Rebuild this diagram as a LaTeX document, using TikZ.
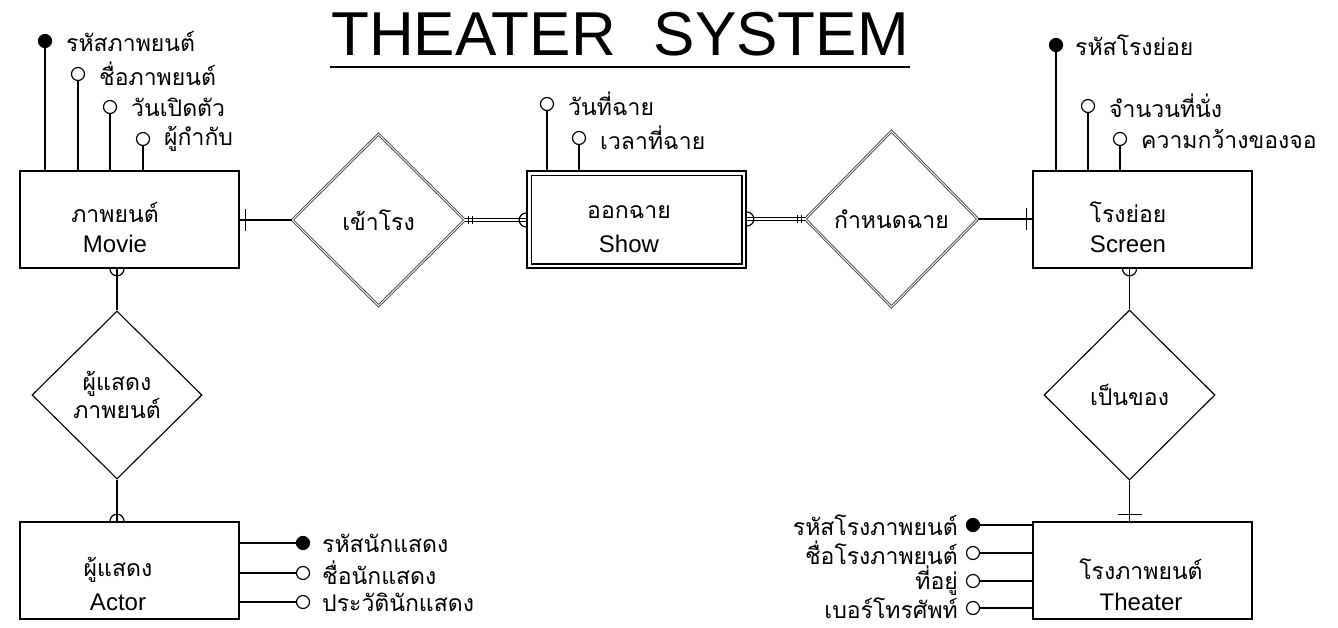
\documentclass[tikz,border=0pt]{standalone}
\usepackage{fontspec}
\setmainfont{Liberation Sans}
\newfontfamily\thai[Script=Thai]{Loma}
\usetikzlibrary{shapes.geometric}
\begin{document}
\begin{tikzpicture}[x=1pt,y=-1pt,
  ent/.style={draw, line width=1.6pt, minimum width=219pt, minimum height=97pt, inner sep=0pt},
  relA/.style={diamond, draw=black!75, double, double distance=0.9pt, line width=0.9pt, inner sep=0pt, font=\thai\fontsize{23}{26}\selectfont},
  relB/.style={diamond, draw, line width=1.1pt, inner sep=0pt, align=center, font=\thai\fontsize{23}{26}\selectfont},
  key/.style={circle, draw, fill=black, line width=1.2pt, minimum size=13pt, inner sep=0pt},
  att/.style={circle, draw, fill=white, line width=1.2pt, minimum size=13pt, inner sep=0pt},
  lbl/.style={font=\thai\fontsize{23}{26}\selectfont, inner sep=0pt},
  lat/.style={font=\fontsize{24}{26}\selectfont, inner sep=0pt},
  conn/.style={line width=1.6pt},
  dbl/.style={double, double distance=2pt, line width=1.2pt},
  tickmk/.style={line width=1.2pt},
  titlef/.style={font=\fontsize{62}{66}\selectfont, inner sep=0pt}
]
\useasboundingbox (0,0) rectangle (1338,627);
% title
\node[titlef] (title) at (620,34) {THEATER\hspace{38pt}SYSTEM};
\coordinate (ul1) at (330,67);
\coordinate (ul2) at (910,67);
\draw[line width=2pt] (ul1) -- (ul2);

% entities
\node[ent] (movie) at (129.5,219.5) {};
\node[ent] (show) at (636.5,219.5) {};
\draw[line width=1.4pt] ([shift={(5,5)}]show.north west) rectangle ([shift={(-5,-5)}]show.south east);
\node[ent] (screen) at (1142.5,219.5) {};
\node[ent] (actor) at (129.5,570.5) {};
\node[ent] (theater) at (1142.5,570.5) {};

\node[lbl] (movieth) at (115,212) {ภาพยนต์};
\node[lat] (movieen) at (115,244) {Movie};
\node[lbl] (showth) at (629,212) {ออกฉาย};
\node[lat] (showen) at (629,244) {Show};
\node[lbl] (screenth) at (1128,212) {โรงย่อย};
\node[lat] (screenen) at (1128,244) {Screen};
\node[lbl] (actorth) at (118,570) {ผู้แสดง};
\node[lat] (actoren) at (118,602) {Actor};
\node[lbl] (theaterth) at (1141,569) {โรงภาพยนต์};
\node[lat] (theateren) at (1141,602) {Theater};

% relationships
\node[relA, minimum width=173pt, minimum height=172pt] (r1) at (378.5,220) {เข้าโรง};
\node[relA, minimum width=173pt, minimum height=176pt] (r2) at (891.5,219) {กำหนดฉาย};
\node[relB, minimum width=170pt, minimum height=168pt] (r3) at (117,395) {ผู้แสดง\\ภาพยนต์};
\node[relB, minimum width=171pt, minimum height=170pt] (r4) at (1129.5,395) {เป็นของ};

% movie -- r1
\coordinate (p1) at (r1.west -| movie.east);
\draw[conn] (r1.west) -- (p1);
\draw[tickmk] ([xshift=6pt]p1) ++(0,-11) -- ++(0,22);
% r1 == show
\coordinate (p2) at (r1.east -| show.west);
\draw[dbl] (r1.east) -- (p2);
\draw[tickmk] ([xshift=3pt]r1.east) ++(0,-4) -- ++(0,8);
\draw[tickmk] ([xshift=7pt]r1.east) ++(0,-4) -- ++(0,8);
\draw[tickmk] (p2) ++(0,-7) arc[start angle=270, end angle=90, radius=7];
% show == r2
\coordinate (p3) at (r2.west -| show.east);
\draw[dbl] (p3) -- (r2.west);
\draw[tickmk] ([xshift=-3pt]r2.west) ++(0,-4) -- ++(0,8);
\draw[tickmk] ([xshift=-7pt]r2.west) ++(0,-4) -- ++(0,8);
\draw[tickmk] (p3) ++(0,-7) arc[start angle=-90, end angle=90, radius=7];
% r2 -- screen
\coordinate (p4) at (r2.east -| screen.west);
\draw[conn] (r2.east) -- (p4);
\draw[tickmk] ([xshift=-6pt]p4) ++(0,-11) -- ++(0,22);
% movie -- r3 -- actor
\coordinate (p5) at (r3.north |- movie.south);
\draw[conn] (r3.north) -- (p5);
\draw[tickmk] (p5) ++(7,0) arc[start angle=0, end angle=180, radius=7];
\coordinate (p6) at (r3.south |- actor.north);
\draw[conn] (r3.south) -- (p6);
\draw[tickmk] (p6) ++(-7,0) arc[start angle=180, end angle=360, radius=7];
% screen -- r4 -- theater
\coordinate (p7) at (r4.north |- screen.south);
\draw[conn] (r4.north) -- (p7);
\draw[tickmk] (p7) ++(7,0) arc[start angle=0, end angle=180, radius=7];
\coordinate (p8) at (r4.south |- theater.north);
\draw[conn] (r4.south) -- (p8);
\draw[tickmk] ([yshift=7pt]p8) ++(-12,0) -- ++(24,0);

% movie attributes
\node[key] (m1) at (45,41) {};
\node[att] (m2) at (78,74) {};
\node[att] (m3) at (110,107) {};
\node[att] (m4) at (143,139) {};
\foreach \n in {m1,m2,m3,m4} \draw[conn] (\n.south) -- (\n.south |- movie.north);
\node[lbl, anchor=west] (m1t) at ([xshift=21pt]m1.center) {รหัสภาพยนต์};
\node[lbl, anchor=west] (m2t) at ([xshift=21pt]m2.center) {ชื่อภาพยนต์};
\node[lbl, anchor=west] (m3t) at ([xshift=21pt]m3.center) {วันเปิดตัว};
\node[lbl, anchor=west] (m4t) at ([xshift=21pt]m4.center) {ผู้กำกับ};

% show attributes
\node[att] (s1) at (547,104) {};
\node[att] (s2) at (579,138) {};
\foreach \n in {s1,s2} \draw[conn] (\n.south) -- (\n.south |- show.north);
\node[lbl, anchor=west] (s1t) at ([xshift=21pt]s1.center) {วันที่ฉาย};
\node[lbl, anchor=west] (s2t) at ([xshift=21pt]s2.center) {เวลาที่ฉาย};

% screen attributes
\node[key] (c1) at (1056,45) {};
\node[att] (c2) at (1088,106) {};
\node[att] (c3) at (1120,139) {};
\foreach \n in {c1,c2,c3} \draw[conn] (\n.south) -- (\n.south |- screen.north);
\node[lbl, anchor=west] (c1t) at ([xshift=19pt]c1.center) {รหัสโรงย่อย};
\node[lbl, anchor=west] (c2t) at ([xshift=21pt]c2.center) {จำนวนที่นั่ง};
\node[lbl, anchor=west] (c3t) at ([xshift=21pt]c3.center) {ความกว้างของจอ};

% actor attributes
\node[key] (a1) at (303,543) {};
\node[att] (a2) at (303,573) {};
\node[att] (a3) at (303,602) {};
\foreach \n in {a1,a2,a3} \draw[conn] (\n.west) -- (\n.west -| actor.east);
\node[lbl, anchor=west] (a1t) at ([xshift=19pt]a1.center) {รหัสนักแสดง};
\node[lbl, anchor=west] (a2t) at ([xshift=19pt]a2.center) {ชื่อนักแสดง};
\node[lbl, anchor=west] (a3t) at ([xshift=19pt]a3.center) {ประวัตินักแสดง};

% theater attributes
\node[key] (t1) at (973,525) {};
\node[att] (t2) at (973,553) {};
\node[att] (t3) at (973,581) {};
\node[att] (t4) at (973,608) {};
\foreach \n in {t1,t2,t3,t4} \draw[conn] (\n.east) -- (\n.east -| theater.west);
\node[lbl, anchor=east] (t1t) at ([xshift=-15pt]t1.center) {รหัสโรงภาพยนต์};
\node[lbl, anchor=east] (t2t) at ([xshift=-15pt]t2.center) {ชื่อโรงภาพยนต์};
\node[lbl, anchor=east] (t3t) at ([xshift=-15pt]t3.center) {ที่อยู่};
\node[lbl, anchor=east] (t4t) at ([xshift=-15pt]t4.center) {เบอร์โทรศัพท์};
\end{tikzpicture}
\end{document}
